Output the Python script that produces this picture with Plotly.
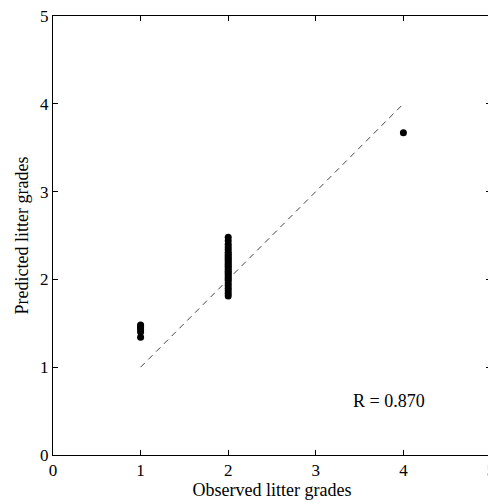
import plotly.graph_objects as go

# Observed grades and predicted grades
obs_g1 = [1, 1, 1, 1, 1, 1]
pred_g1 = [1.34, 1.40, 1.43, 1.45, 1.47, 1.48]
obs_g2 = [2] * 28
pred_g2 = [1.81, 1.84, 1.87, 1.90, 1.93, 1.96, 1.99, 2.01, 2.03, 2.05, 2.07,
           2.09, 2.11, 2.13, 2.15, 2.17, 2.19, 2.21, 2.23, 2.25, 2.27, 2.29,
           2.31, 2.34, 2.37, 2.40, 2.44, 2.48]
obs_g4 = [4]
pred_g4 = [3.67]
line_x = [1, 4]
line_y = [1, 4]
r_text = "R = 0.870"

obs = obs_g1 + obs_g2 + obs_g4
pred = pred_g1 + pred_g2 + pred_g4

font = dict(family="Liberation Serif, Times New Roman, serif", size=18, color="black")
tick_font = dict(family="Liberation Serif, Times New Roman, serif", size=17, color="black")

fig = go.Figure()
fig.add_trace(go.Scatter(x=line_x, y=line_y, mode="lines",
                         line=dict(color="#444444", width=1, dash="6px,5px"),
                         showlegend=False, hoverinfo="skip"))
fig.add_trace(go.Scatter(x=obs, y=pred, mode="markers",
                         marker=dict(color="black", size=7, line=dict(width=0)),
                         showlegend=False))
fig.add_annotation(x=3.4, y=0.61, text=r_text, showarrow=False, xanchor="left",
                   font=font)

axis_common = dict(range=[0, 5], dtick=1, ticks="inside", ticklen=5, tickcolor="black",
                   showline=True, linecolor="black", linewidth=1, mirror="ticks",
                   showgrid=False, zeroline=False, tickfont=tick_font, automargin=False,
                   ticklabeloverflow="allow")
fig.update_layout(
    width=488, height=496,
    margin=dict(l=45, r=5, t=8, b=49),
    plot_bgcolor="white", paper_bgcolor="white",
    xaxis=dict(title=dict(text="Observed litter grades", font=font, standoff=3), **axis_common),
    yaxis=dict(title=dict(text="Predicted litter grades", font=font, standoff=6), **axis_common),
    font=font,
)
fig.write_html("out.html")
